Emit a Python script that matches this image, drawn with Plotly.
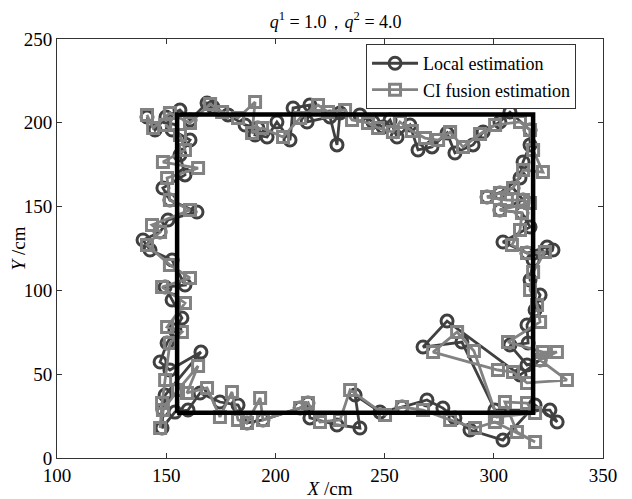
import plotly.graph_objects as go

# Local estimation (circles)
local_x = [141.2, 144.9, 149.9, 156.3, 160.9, 168.7, 171.4, 178.3, 186.1, 192.0, 190.7, 196.2, 200.7, 206.7,
           208.1, 215.8, 214.5, 225.0, 228.2, 229.6, 238.7, 244.7, 249.3, 252.5, 255.7, 261.6, 265.3, 271.7,
           278.6, 282.2, 290.5, 295.1, 302.8, 307.4,
           316.6, 316.6, 313.4, 312.0, 302.8, 296.9, 308.8, 313.4, 302.8, 312.9, 316.6, 304.2, 315.2, 324.4,
           327.1, 318.0, 316.6, 321.2, 318.9, 315.2, 315.7, 307.4, 315.2, 321.2, 312.0,
           278.6, 267.6, 285.4, 300.5, 325.7, 329.0, 318.9, 304.2,
           289.1, 282.2, 276.7, 269.4, 258.0, 247.9, 236.5, 238.7, 228.2, 215.8, 214.9, 211.3, 194.3, 187.0,
           182.9, 174.6, 165.5, 160.0, 154.0, 148.1,
           148.5, 149.5, 165.9, 151.7, 147.2, 150.4, 154.0, 157.2, 152.7, 149.5, 158.6, 152.7, 142.6, 139.4,
           147.2, 150.8, 164.1, 151.7, 148.5, 158.6, 156.3, 160.9, 152.7]
local_y = [203.5, 195.7, 203.5, 207.6, 201.7, 211.8, 209.4, 204.7, 198.7, 196.9, 192.7, 191.5, 200.5, 189.7,
           208.8, 210.6, 200.5, 203.5, 186.8, 205.9, 204.7, 200.5, 197.5, 201.7, 191.5, 198.7, 183.8, 185.6,
           193.9, 182.0, 186.8, 194.5, 200.5, 206.4,
           195.7, 186.8, 176.6, 167.1, 158.1, 155.7, 161.1, 153.9, 148.0, 146.2, 137.8, 128.9, 122.3, 125.9,
           124.1, 118.1, 106.2, 97.3, 88.3, 79.4, 68.6, 67.4, 55.5, 58.5, 49.5,
           81.7, 66.2, 69.2, 28.6, 28.6, 21.5, 31.6, 10.7,
           16.7, 23.9, 29.8, 34.6, 30.4, 27.4, 37.6, 17.9, 19.7, 23.9, 32.8, 29.8, 22.7, 20.9,
           31.6, 33.4, 38.8, 28.6, 27.4, 17.9,
           28.6, 37.6, 63.2, 52.5, 57.3, 68.6, 76.4, 83.5, 94.3, 102.0, 103.2, 118.1, 124.1, 130.1,
           134.9, 142.0, 146.8, 153.9, 161.1, 168.9, 180.8, 189.7, 195.7]

# CI fusion estimation (squares)
ci_x = [141.2, 144.0, 151.7, 160.9, 170.1, 175.6, 182.9, 190.7, 189.3, 193.9, 203.5, 211.3, 219.5, 224.1,
        231.9, 235.1, 242.4, 247.0, 253.8, 257.0, 262.5, 268.5, 274.5, 280.0, 285.9, 293.7, 300.6, 312.0,
        316.6, 318.0, 322.5, 313.4, 308.8, 302.8, 296.9, 306.0, 313.4, 316.6, 302.8, 312.9, 312.0, 308.3,
        315.2, 323.4, 318.0, 316.6, 319.8, 321.2, 306.5, 322.5, 328.9, 321.2, 333.5, 315.2, 308.8,
        301.9, 272.2, 283.2, 290.9, 301.5, 318.9, 315.2, 305.1, 310.6, 318.9,
        300.5, 291.4, 280.0, 267.6, 258.0, 250.2, 234.2, 229.6, 220.4, 214.9, 211.3, 194.3, 193.0, 187.0,
        182.9, 180.1, 174.6, 168.7, 159.5, 164.6, 155.4, 148.5, 147.2,
        148.1, 149.5, 151.7, 157.2, 150.4, 158.6, 148.1, 160.9, 151.7, 141.2, 147.2, 143.5, 160.9, 151.7,
        150.4, 164.6, 148.5, 158.6, 156.3, 149.5]
ci_y = [204.7, 196.9, 205.9, 199.9, 211.2, 206.5, 202.9, 212.4, 193.9, 196.9, 191.5, 202.9, 210.6, 206.5,
        207.6, 201.7, 199.9, 196.9, 194.5, 200.5, 195.1, 190.9, 189.7, 194.5, 185.6, 193.3, 198.7, 200.5,
        195.7, 183.8, 170.6, 171.8, 161.1, 158.1, 155.7, 153.9, 153.9, 152.1, 148.0, 146.2, 136.0, 127.1,
        122.3, 122.9, 111.0, 100.2, 91.3, 81.2, 69.2, 63.2, 63.2, 58.5, 46.5, 44.8, 51.3,
        52.5, 63.2, 75.2, 63.8, 24.5, 26.9, 32.8, 33.4, 15.5, 9.5,
        21.5, 17.9, 22.7, 28.6, 30.4, 25.7, 40.6, 22.7, 21.5, 32.8, 29.8, 22.7, 35.8, 20.9,
        22.7, 39.4, 24.5, 41.8, 38.8, 54.9, 40.6, 28.6, 17.9,
        32.8, 46.5, 68.6, 75.2, 78.2, 92.5, 102.0, 107.4, 115.2, 127.1, 134.9, 139.0, 148.0, 153.9,
        167.1, 173.0, 176.6, 183.8, 192.7, 198.7]

# Reference rectangle path
rect_x = [155, 318, 318, 155, 155]
rect_y = [27, 27, 205, 205, 27]

x_ticks = [100, 150, 200, 250, 300, 350]
y_ticks = [0, 50, 100, 150, 200, 250]

FONT = "Liberation Serif"

fig = go.Figure()
fig.add_trace(go.Scatter(
    x=local_x, y=local_y, mode="lines+markers", name="Local estimation",
    line=dict(color="#404040", width=2.8),
    marker=dict(symbol="circle-open", size=12, color="#404040", line=dict(width=3)),
))
fig.add_trace(go.Scatter(
    x=ci_x, y=ci_y, mode="lines+markers", name="CI fusion estimation",
    line=dict(color="#828282", width=2.8),
    marker=dict(symbol="square-open", size=11, color="#828282", line=dict(width=3)),
))
fig.add_trace(go.Scatter(
    x=rect_x, y=rect_y, mode="lines", showlegend=False, hoverinfo="skip",
    line=dict(color="black", width=4.5),
))

axis_common = dict(
    showgrid=False, zeroline=False, showline=True, linecolor="#333333", linewidth=1,
    mirror="ticks", ticks="inside", ticklen=5, tickcolor="#333333", automargin=False,
    tickfont=dict(family=FONT, size=19, color="black"),
)
fig.update_xaxes(range=[100, 350], tickvals=x_ticks, **axis_common,
                 title=dict(text="<i>X</i> /cm", font=dict(family=FONT, size=19, color="black"), standoff=0))
fig.update_yaxes(range=[0, 250], tickvals=y_ticks, **axis_common,
                 title=dict(text="<i>Y</i> /cm", font=dict(family=FONT, size=19, color="black"), standoff=2))

# page body adds an 8px offset, so the figure is 8px smaller on each axis
fig.update_layout(
    width=624, height=491,
    margin=dict(l=49, r=29, t=31, b=41),
    paper_bgcolor="white", plot_bgcolor="white",
    title=dict(text="<i>q</i><sup>1</sup> = 1.0，<i>q</i><sup>2</sup> = 4.0",
               x=0.525, xanchor="center", y=0.972, yanchor="middle",
               font=dict(family=FONT, size=18, color="black")),
    legend=dict(x=0.566, y=0.988, xanchor="left", yanchor="top",
                bgcolor="white", bordercolor="#333333", borderwidth=1,
                font=dict(family=FONT, size=18, color="black"),
                itemwidth=46, tracegroupgap=0),
    showlegend=True,
)

fig.write_html("out.html")
